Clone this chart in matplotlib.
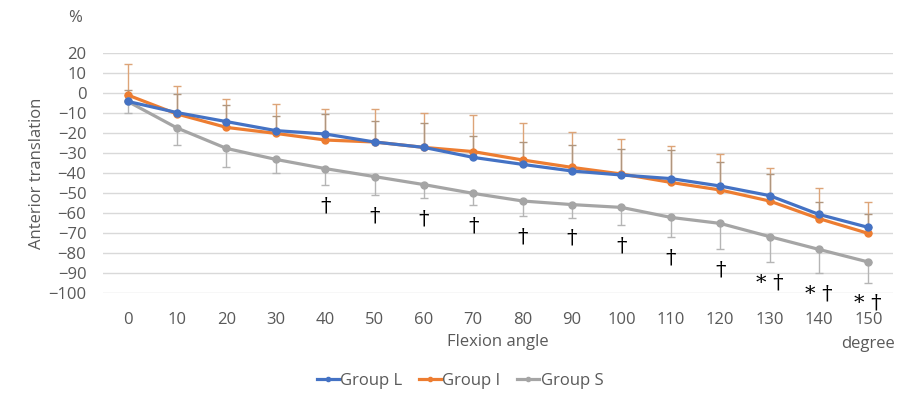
import matplotlib.pyplot as plt

plt.rcParams["font.family"] = ["Open Sans", "DejaVu Sans"]

angles = [0, 10, 20, 30, 40, 50, 60, 70, 80, 90, 100, 110, 120, 130, 140, 150]

group_l = [-4.2, -9.8, -14.3, -18.8, -20.5, -24.5, -27.2, -32.2, -35.7, -39.0,
           -41.0, -42.8, -46.5, -51.3, -60.7, -67.2]
group_l_sd = [5.7, 9.3, 8.1, 7.1, 10.0, 10.5, 12.0, 10.7, 11.4, 13.2,
              13.2, 14.3, 12.2, 10.6, 6.0, 6.5]

group_i = [-1.0, -10.5, -17.2, -20.2, -23.5, -24.5, -27.2, -29.3, -33.5, -37.2,
           -40.5, -44.7, -48.5, -54.0, -62.8, -70.2]
group_i_sd = [15.3, 14.0, 14.0, 14.7, 15.3, 16.3, 17.4, 18.5, 18.7, 17.7,
              17.7, 18.2, 17.8, 16.7, 15.5, 15.9]

group_s = [-4.2, -17.5, -27.7, -33.2, -37.8, -41.8, -45.8, -50.2, -54.0, -55.8,
           -57.2, -62.2, -65.2, -71.8, -78.2, -84.5]
group_s_sd = [6.0, 8.7, 9.5, 7.0, 8.2, 9.2, 6.9, 6.0, 7.5, 6.5,
              8.8, 10.0, 12.8, 12.7, 12.0, 10.3]

marks = ["", "", "", "", "†", "†", "†", "†", "†", "†",
         "†", "†", "†", "* †", "* †", "* †"]

y_ticks = list(range(20, -101, -10))

blue = "#4472C4"
orange = "#ED7D31"
gray = "#A5A5A5"
text_col = "#595959"

fig = plt.figure(figsize=(9.23, 3.93), dpi=100)
ax = fig.add_axes([103 / 923, 100 / 393, 790 / 923, 240 / 393])

# error bars: upper only for L and I, lower only for S
ax.errorbar(angles, group_i, yerr=[[0] * len(angles), group_i_sd], fmt="none",
            ecolor="#DDA478", elinewidth=1, capsize=3, capthick=1, zorder=2)
ax.errorbar(angles, group_l, yerr=[[0] * len(angles), group_l_sd], fmt="none",
            ecolor="#B0967E", elinewidth=1, capsize=3, capthick=1, zorder=2)
ax.errorbar(angles, group_s, yerr=[group_s_sd, [0] * len(angles)], fmt="none",
            ecolor="#B5B5B5", elinewidth=1, capsize=3, capthick=1, zorder=2)

ax.plot(angles, group_l, color=blue, lw=2.3, marker="o", ms=5, label="Group L", zorder=4)
ax.plot(angles, group_i, color=orange, lw=2.3, marker="o", ms=5, label="Group I", zorder=3)
ax.plot(angles, group_s, color=gray, lw=2.3, marker="o", ms=5, label="Group S", zorder=3)

for a, m, s, sd in zip(angles, marks, group_s, group_s_sd):
    if m:
        ax.annotate(m, (a, s - sd), xytext=(0, -15), textcoords="offset points",
                    ha="center", va="center", fontsize=15, color="black",
                    family=["DejaVu Serif"])

ax.set_xlim(-5, 155)
ax.set_ylim(-100, 20)
ax.set_xticks(angles)
ax.set_yticks(y_ticks)
ax.grid(axis="y", color="#D9D9D9", lw=1)
ax.set_axisbelow(True)
for sp in ax.spines.values():
    sp.set_visible(False)
ax.tick_params(length=0, labelsize=12, labelcolor=text_col)
ax.tick_params(axis="x", pad=14)
ax.tick_params(axis="y", pad=12)

ax.set_xlabel("Flexion angle", fontsize=12, color=text_col, labelpad=4)
ax.set_ylabel("Anterior translation", fontsize=12, color=text_col, labelpad=2)
fig.text(75 / 923, 1 - 18 / 393, "%", fontsize=12, color=text_col, ha="center", va="center")
fig.text(868 / 923, 1 - 344 / 393, "degree", fontsize=12, color=text_col, ha="center", va="center")

leg = fig.legend(loc="center", bbox_to_anchor=(460 / 923, 1 - 381 / 393), ncol=3,
                 frameon=False, fontsize=12, handlelength=1.3, columnspacing=1.0,
                 handletextpad=0.1, markerscale=0.6)
for t in leg.get_texts():
    t.set_color(text_col)

fig.savefig("out.png", dpi=100)
